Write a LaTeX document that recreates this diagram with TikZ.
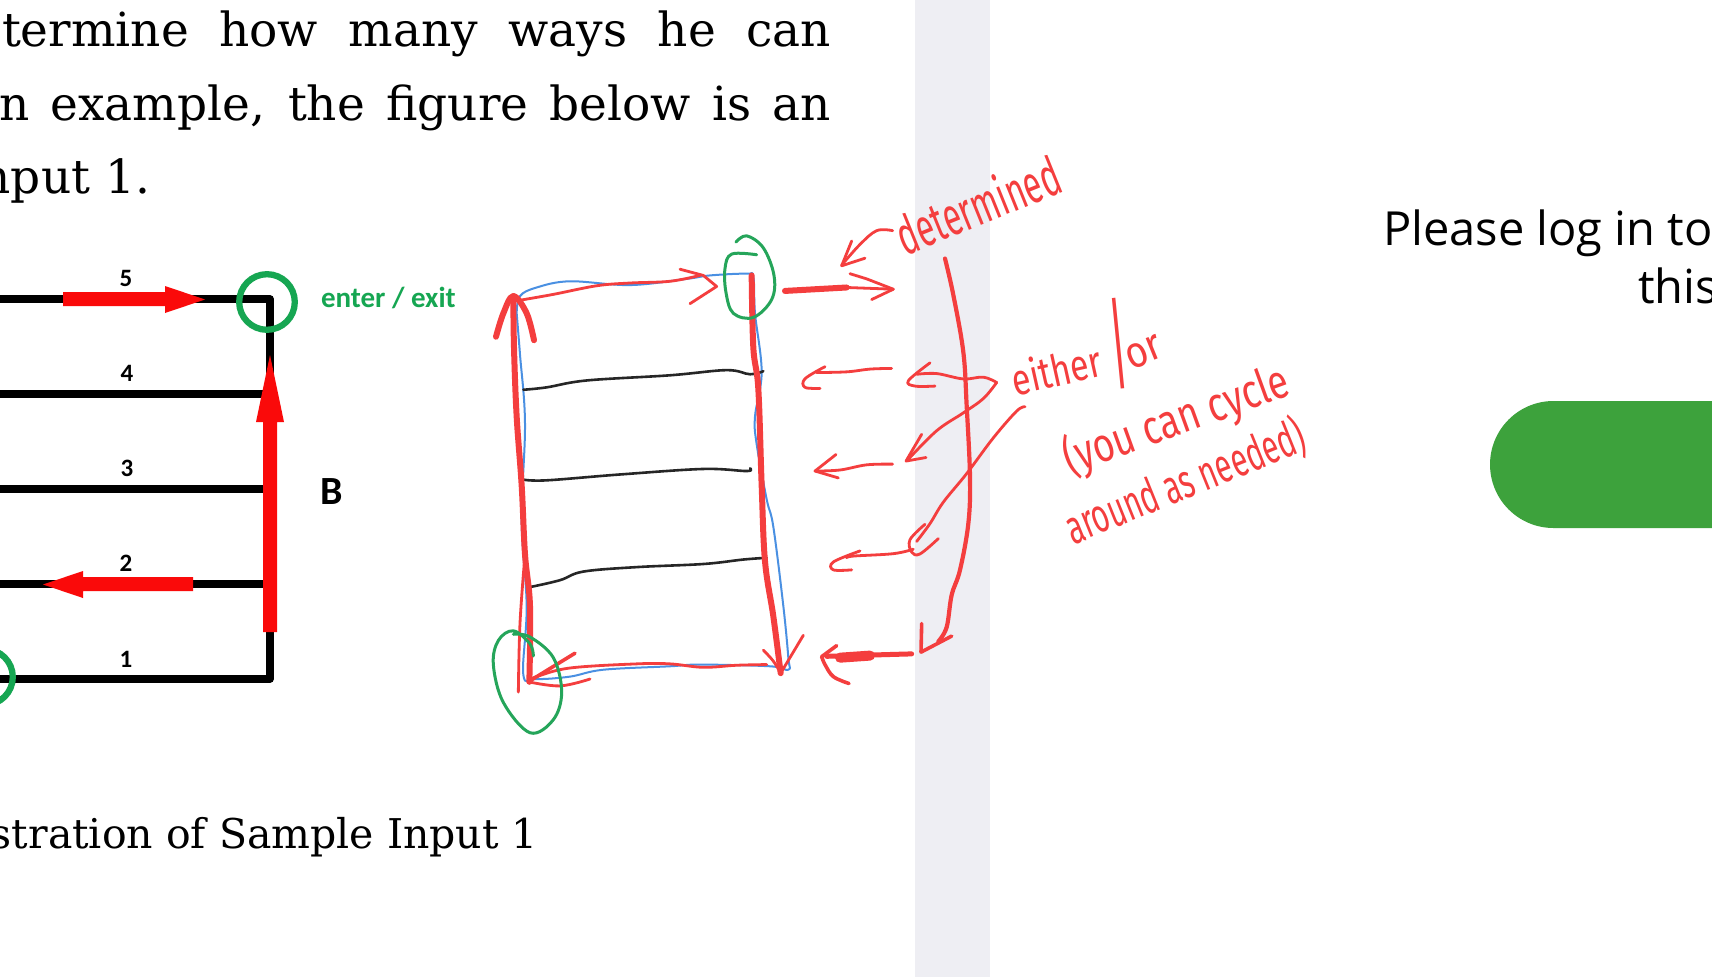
\documentclass[tikz,border=0pt]{standalone}
\usepackage{fontspec}
\usepackage{graphicx}
\setmainfont{DejaVu Serif}
\newfontfamily\calib{Carlito}
\newfontfamily\handf{Fira Sans}
\newfontfamily\uifont{Open Sans}
\definecolor{inkred}{HTML}{F43E3E}
\definecolor{inkblue}{HTML}{4A90E2}
\definecolor{inkgreen}{HTML}{25A55A}
\definecolor{figgreen}{HTML}{16A652}
\definecolor{figred}{HTML}{FA0A0A}
\definecolor{strip}{HTML}{EEEEF3}
\definecolor{pill}{HTML}{3DA23C}
\newcommand\hw[3]{{\handf\fontsize{#2}{#2}\selectfont\resizebox{#1pt}{\height}{#3}}}
\tikzset{
  txt/.style={inner sep=0pt,outer sep=0pt,anchor=base west},
  txtr/.style={inner sep=0pt,outer sep=0pt,anchor=base east},
  digit/.style={inner sep=0pt,outer sep=0pt,anchor=base,font=\calib\bfseries\fontsize{25}{25}\selectfont},
  hand/.style={inner sep=0pt,outer sep=0pt,anchor=base west,text=inkred},
  fig/.style={line width=7.3pt,black,line join=round},
  figarrow/.style={fill=figred,draw=none},
  figcircle/.style={line width=6.3pt,draw=figgreen},
  rthin/.style={draw=inkred,line width=2.8pt,line cap=round,line join=round},
  rmid/.style={draw=inkred,line width=3.6pt,line cap=round,line join=round},
  rthick/.style={draw=inkred,line width=6pt,line cap=round,line join=round},
  blueink/.style={draw=inkblue,line width=2pt,line cap=round,line join=round},
  greenink/.style={draw=inkgreen,line width=3pt,line cap=round,line join=round},
  blackink/.style={draw=black!85,line width=2.6pt,line cap=round,line join=round},
  zoomA/.style={shift={(470pt,-210pt)},x=.33333pt,y=-.34436pt},
  zoomB/.style={shift={(820pt,-120pt)},x=.33333pt,y=-.35714pt},
  sm/.style={smooth,tension=.6}
}
\begin{document}
\begin{tikzpicture}[x=1pt,y=-1pt]
\useasboundingbox (0,0) rectangle (1712,977);
\clip (0,0) rectangle (1712,977);
\fill[white] (0,0) rectangle (1712,977);
\fill[strip] (915,0) rectangle (990,977);
% page text
\node[txt] (l1) at (2,46) {\fontsize{47}{47}\selectfont\makebox[829pt][s]{termine how many ways he can}};
\node[txt] (l2) at (-1,120) {\fontsize{47}{47}\selectfont\makebox[832pt][s]{n example, the figure below is an}};
\node[txtr] (l3) at (150,193) {\fontsize{47}{47}\selectfont nput 1.};
\node[txtr] (cap) at (538,848) {\fontsize{41}{41}\selectfont stration of Sample Input 1};
\node[txt] (p1) at (1383,245) {\uifont\fontsize{47}{47}\selectfont Please log in to};
\node[txt] (p2) at (1638,303) {\uifont\fontsize{47}{47}\selectfont this};
\fill[pill,rounded corners=63.5pt] (1490,401) rectangle (1900,528);
% printed figure
\draw[fig] (0,299) -- (270,299) -- (270,679) -- (0,679);
\draw[fig] (0,394) -- (266,394);
\draw[fig] (0,489) -- (266,489);
\draw[fig] (0,584) -- (266,584);
\fill[figarrow] (63,292) -- (165,292) -- (165,286) -- (205,299.5) -- (165,313) -- (165,306) -- (63,306) -- cycle;
\fill[figarrow] (193,577) -- (83,577) -- (83,571) -- (43,584.5) -- (83,598) -- (83,591) -- (193,591) -- cycle;
\fill[figarrow] (263,632) -- (263,422) -- (256,422) -- (270,355) -- (284,422) -- (277,422) -- (277,632) -- cycle;
\draw[figcircle] (267,302) circle (27.8);
\draw[figcircle] (-15,677) circle (27.8);
\node[digit] (n5) at (126,286) {5};
\node[digit] (n4) at (127,381) {4};
\node[digit] (n3) at (127,476) {3};
\node[digit] (n2) at (126,571) {2};
\node[digit] (n1) at (126,667) {1};
\node[txt,text=figgreen] (ee) at (321,307) {\calib\bfseries\fontsize{29}{29}\selectfont enter / exit};
\node[txt] (bb) at (320,504) {\calib\bfseries\fontsize{40}{40}\selectfont B};
% hand-drawn ladder
\begin{scope}[zoomA]
\draw[blueink] plot[sm] coordinates {(140,300) (150,250) (200,225) (300,207) (480,218) (650,200) (720,190) (830,185) (850,195) (855,300) (875,470) (855,600) (860,680) (890,840) (910,920) (940,1150) (955,1300) (955,1335) (900,1325) (690,1320) (600,1325) (400,1335) (300,1355) (200,1362) (160,1350) (170,1150) (155,900) (165,620) (150,420) (140,300)};
\draw[blackink] plot[sm] coordinates {(160,522) (230,515) (350,495) (600,480) (770,465) (840,477) (880,468)};
\draw[blackink] plot[sm] coordinates {(160,783) (230,785) (450,768) (700,752) (830,758) (840,750)};
\draw[blackink] plot[sm] coordinates {(180,1095) (270,1075) (340,1050) (500,1037) (700,1028) (820,1015) (890,1010)};
\draw[rthin] plot[sm] coordinates {(145,1400) (150,1200) (165,1000)};
\draw[rthick] plot[sm] coordinates {(178,1370) (180,1150) (165,1000) (155,800) (140,600) (132,400) (130,250)};
\draw[rthick] plot[sm] coordinates {(78,368) (100,300) (130,250) (170,300) (192,378)};
\draw[rthin] plot[sm] coordinates {(150,262) (250,245) (380,220) (480,212) (600,207) (690,190)};
\draw[rthin] (630,172) -- (700,190) -- (740,222) -- (660,272);
\draw[rthick] plot[sm] coordinates {(845,190) (850,400) (865,520) (875,800) (885,1020) (910,1180) (932,1345)};
\draw[rthin] plot[sm] coordinates {(880,1278) (910,1310) (932,1345)};
\draw[rthin] (932,1345) -- (1000,1235);
\draw[rthin] plot[sm] coordinates {(890,1320) (800,1322) (700,1328) (600,1318) (500,1318) (300,1330) (200,1355) (175,1368)};
\draw[rmid] (315,1287) -- (175,1370);
\draw[rthin] plot[sm] coordinates {(175,1370) (270,1382) (360,1362)};
\draw[greenink] plot[sm] coordinates {(798,93) (830,75) (880,110) (912,190) (905,260) (850,312) (790,300) (768,240) (765,170) (785,128) (860,130)};
\draw[greenink] plot[sm] coordinates {(190,1295) (180,1260) (130,1222) (85,1250) (70,1320) (100,1430) (180,1518) (250,1480) (275,1400) (250,1300) (180,1240) (130,1232)};
% arrows beside the ladder
\draw[rthick] (945,235) -- (1130,225);
\draw[rthin] (1130,225) -- (1270,230);
\draw[rthin] (1140,185) -- (1190,200) -- (1270,230) -- (1205,260);
\draw[rthin] plot[sm] coordinates {(1268,60) (1220,60) (1170,100) (1115,160)};
\draw[rthin] (1145,90) -- (1115,162) -- (1185,140);
\draw[rthin] plot[sm] coordinates {(1265,460) (1200,462) (1130,470) (1040,472)};
\draw[rthin] plot[sm] coordinates {(1065,455) (1005,490) (1005,515) (1050,518)};
\draw[rthin] plot[sm] coordinates {(1268,738) (1190,740) (1110,755) (1035,758)};
\draw[rthin] (1098,710) -- (1035,758) -- (1105,778);
\draw[rthin] plot[sm] coordinates {(1330,985) (1270,998) (1150,1005) (1130,1010)};
\draw[rthin] plot[sm] coordinates {(1170,990) (1090,1022) (1090,1045) (1145,1045)};
\draw[draw=inkred,line width=5pt,line cap=round] (1070,1296) -- (1325,1289);
\draw[draw=inkred,line width=10pt,line cap=round] (1110,1300) -- (1200,1294);
\draw[rmid] (1100,1265) -- (1055,1297);
\draw[rmid] plot[sm] coordinates {(1055,1297) (1065,1320) (1090,1355) (1137,1375)};
\end{scope}
% hand-drawn brackets
\begin{scope}[zoomB]
\draw[rmid,line width=4.2pt] plot[sm] coordinates {(375,388) (400,490) (430,650) (440,800) (450,1000) (445,1130) (420,1260) (395,1330) (380,1420) (355,1460)};
\draw[rmid] (305,1410) -- (303,1490) -- (395,1445);
\draw[rthin] plot[sm] coordinates {(530,735) (490,720) (430,725) (350,710) (290,712)};
\draw[rthin] plot[sm] coordinates {(330,680) (265,730) (285,745) (345,745)};
\draw[rthin] plot[sm] coordinates {(530,735) (490,780) (430,820) (350,870) (265,950)};
\draw[rthin] (305,880) -- (258,955) -- (318,945);
\draw[rthin] plot[sm] coordinates {(615,803) (590,815) (520,890) (440,990) (370,1070) (330,1130) (290,1180)};
\draw[rthin] plot[sm] coordinates {(315,1132) (270,1175) (275,1210) (300,1215) (355,1172)};
\end{scope}
% handwritten words
\node[hand,rotate=22] (w1) at (905,256) {\hw{173}{54}{determined}};
\node[hand,rotate=12.6] (w2) at (1015,396) {\hw{92}{44}{either}};
\node[inner sep=0pt,text=inkred,rotate=5.6] (w3) at (1119,344) {\hw{17}{100}{|}};
\node[hand,rotate=22] (w4) at (1131,370) {\hw{37}{44}{or}};
\node[hand,rotate=19.9] (w5) at (1070,475) {\hw{237}{48}{(you can cycle}};
\node[hand,rotate=22] (w6) at (1073,545) {\hw{255}{48}{around as needed)}};
\end{tikzpicture}
\end{document}
